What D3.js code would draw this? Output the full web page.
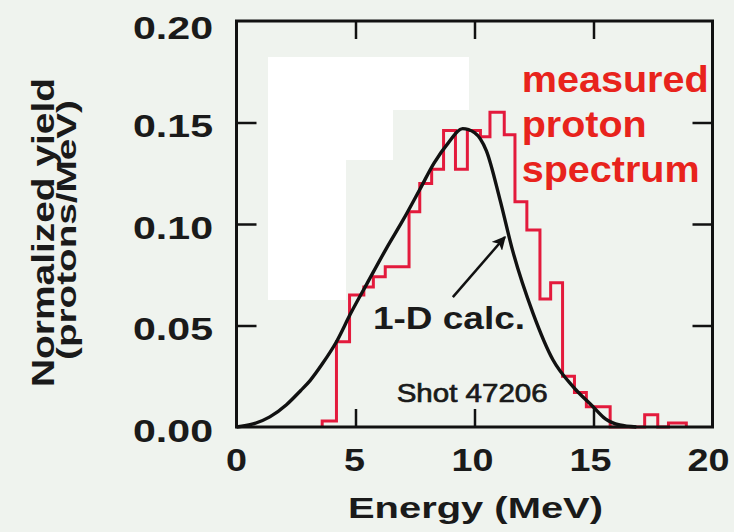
<!DOCTYPE html>
<html>
<head>
<meta charset="utf-8">
<script src="https://cdn.jsdelivr.net/npm/d3@7"></script>
<style>
  html, body { margin: 0; padding: 0; background: #eff3ee; }
  svg { display: block; }
  text { font-family: "Liberation Sans", Arial, sans-serif; }
</style>
</head>
<body>
<svg id="chart" width="734" height="532"></svg>
<script>
// ---- data ----
const xTicks = [0, 5, 10, 15, 20];
const yTicks = [0.00, 0.05, 0.10, 0.15, 0.20];
const xTickLabels = ["0", "5", "10", "15", "20"];
const yTickLabels = ["0.00", "0.05", "0.10", "0.15", "0.20"];

// measured proton spectrum (histogram): bin edges (MeV) and yields
const binEdges = [3.6, 4.2, 4.75, 5.35, 5.75, 6.25, 7.25, 7.7, 8.2, 8.7, 9.2, 9.7, 10.25, 10.65,
                  11.25, 11.7, 12.2, 12.75, 13.2, 13.7, 14.2, 14.7, 15.2, 15.7, 17.15, 17.7, 18.15, 18.9];
const measuredYield = [0.003, 0.042, 0.065, 0.069, 0.074, 0.079, 0.106, 0.120, 0.127, 0.146,
                       0.127, 0.146, 0.143, 0.155, 0.144, 0.111, 0.097, 0.063, 0.071, 0.025,
                       0.017, 0.010, 0.010, 0, 0.006, 0, 0.002];

// 1-D calculation (smooth curve)
const calcEnergy = [0, 0.7, 1.4, 2.1, 2.7, 3.1, 3.6, 4.2, 4.8, 5.5, 6.3, 7.0, 7.7, 8.3, 8.9, 9.5,
                    10.0, 10.5, 11.07, 11.6, 12.46, 13.3, 14.14, 14.98, 15.5, 16.1, 16.8];
const calcYield = [0, 0.0015, 0.005, 0.011, 0.018, 0.023, 0.031, 0.042, 0.056, 0.071, 0.088, 0.102,
                   0.117, 0.130, 0.140, 0.147, 0.145, 0.136, 0.112, 0.087, 0.056, 0.033, 0.0199,
                   0.010, 0.004, 0.001, 0];

const xTitle = "Energy (MeV)";
const yTitle1 = "Normalized yield";
const yTitle2 = "(protons/MeV)";
const legendLines = ["measured", "proton", "spectrum"];
const calcLabel = "1-D calc.";
const shotLabel = "Shot 47206";

// ---- layout ----
const svg = d3.select("#chart");
const pLeft = 236.5, pRight = 712.5, pTop = 21, pBottom = 427;
const x = d3.scaleLinear().domain([0, 20]).range([pLeft, pRight]);
const y = d3.scaleLinear().domain([0, 0.20]).range([pBottom, pTop]);

// background artefact patches (white)
const patches = svg.append("g").attr("fill", "#ffffff");
patches.append("rect").attr("x", 268).attr("y", 57).attr("width", 201).attr("height", 53);
patches.append("rect").attr("x", 268).attr("y", 110).attr("width", 125).attr("height", 50);
patches.append("rect").attr("x", 268).attr("y", 160).attr("width", 78).attr("height", 140);

// histogram path
const histPts = [[binEdges[0], 0]];
measuredYield.forEach((v, i) => {
  histPts.push([binEdges[i], v]);
  histPts.push([binEdges[i + 1], v]);
});
histPts.push([binEdges[binEdges.length - 1], 0]);
const lineLin = d3.line().x(d => x(d[0])).y(d => y(d[1]));
svg.append("path")
  .attr("d", lineLin(histPts))
  .attr("fill", "none")
  .attr("stroke", "#e31a3c")
  .attr("stroke-width", 3)
  .attr("stroke-linejoin", "miter");

// calc curve
const calcPts = calcEnergy.map((e, i) => [e, calcYield[i]]);
svg.append("path")
  .attr("d", d3.line().x(d => x(d[0])).y(d => y(d[1])).curve(d3.curveMonotoneX)(calcPts))
  .attr("fill", "none")
  .attr("stroke", "#111")
  .attr("stroke-width", 3.4)
  .attr("stroke-linejoin", "round");

// axes ticks (inward on all four sides)
const tickLen = 18;
const innerX = xTicks.filter(t => t > 0 && t < 20);
const innerY = yTicks.filter(t => t > 0 && t < 0.2);
function styleAxis(g) {
  g.select(".domain").remove();
  g.selectAll(".tick line").attr("stroke", "#111").attr("stroke-width", 2.5);
  g.selectAll(".tick text").remove();
}
svg.append("g").attr("transform", `translate(0,${pBottom})`)
  .call(d3.axisBottom(x).tickValues(innerX).tickSize(-tickLen)).call(styleAxis);
svg.append("g").attr("transform", `translate(0,${pTop})`)
  .call(d3.axisTop(x).tickValues(innerX).tickSize(-tickLen)).call(styleAxis);
svg.append("g").attr("transform", `translate(${pLeft},0)`)
  .call(d3.axisLeft(y).tickValues(innerY).tickSize(-tickLen - 2)).call(styleAxis);
svg.append("g").attr("transform", `translate(${pRight},0)`)
  .call(d3.axisRight(y).tickValues(innerY).tickSize(-tickLen - 2)).call(styleAxis);

// frame
svg.append("rect")
  .attr("x", pLeft).attr("y", pTop)
  .attr("width", pRight - pLeft).attr("height", pBottom - pTop)
  .attr("fill", "none").attr("stroke", "#111").attr("stroke-width", 3);

// tick labels
svg.append("g").selectAll("text").data(yTicks).join("text")
  .attr("x", 213)
  .attr("y", d => Math.max(y(d) + 14.5, 38.5))
  .attr("text-anchor", "end")
  .attr("font-size", 31).attr("font-weight", "bold").attr("fill", "#1a1a1a")
  .attr("textLength", 80).attr("lengthAdjust", "spacingAndGlyphs")
  .text((d, i) => yTickLabels[i]);

svg.append("g").selectAll("text").data(xTicks).join("text")
  .attr("x", (d) => x(d) - d * 0.2)
  .attr("y", 470.5)
  .attr("text-anchor", "middle")
  .attr("font-size", 31).attr("font-weight", "bold").attr("fill", "#1a1a1a")
  .attr("textLength", (d, i) => xTickLabels[i].length * 21)
  .attr("lengthAdjust", "spacingAndGlyphs")
  .text((d, i) => xTickLabels[i]);

// axis titles
svg.append("text")
  .attr("x", 475.5).attr("y", 518)
  .attr("text-anchor", "middle")
  .attr("font-size", 30).attr("font-weight", "bold").attr("fill", "#1a1a1a")
  .attr("textLength", 255).attr("lengthAdjust", "spacingAndGlyphs")
  .text(xTitle);

svg.append("text")
  .attr("transform", "translate(53.5,232.5) rotate(-90)")
  .attr("text-anchor", "middle")
  .attr("font-size", 32).attr("font-weight", "bold").attr("fill", "#1a1a1a")
  .attr("textLength", 309).attr("lengthAdjust", "spacingAndGlyphs")
  .text(yTitle1);

svg.append("text")
  .attr("transform", "translate(75.5,230) rotate(-90)")
  .attr("text-anchor", "middle")
  .attr("font-size", 27).attr("font-weight", "bold").attr("fill", "#1a1a1a")
  .attr("textLength", 260).attr("lengthAdjust", "spacingAndGlyphs")
  .text(yTitle2);

// red legend text
const legendBase = [91.5, 137, 182];
const legendLen = [187, 125, 178];
svg.append("g").selectAll("text").data(legendLines).join("text")
  .attr("x", 521.7)
  .attr("y", (d, i) => legendBase[i])
  .attr("font-size", 36).attr("font-weight", "bold").attr("fill", "#e8231c")
  .attr("textLength", (d, i) => legendLen[i]).attr("lengthAdjust", "spacingAndGlyphs")
  .text(d => d);

// annotation: 1-D calc. with arrow
svg.append("defs").append("marker")
  .attr("id", "ah").attr("viewBox", "0 0 10 10")
  .attr("refX", 9).attr("refY", 5)
  .attr("markerWidth", 5.5).attr("markerHeight", 5.5)
  .attr("orient", "auto")
  .append("path").attr("d", "M0,0 L10,5 L0,10 L2.5,5 Z").attr("fill", "#111");

svg.append("line")
  .attr("x1", x(9.09)).attr("y1", y(0.064))
  .attr("x2", x(11.28)).attr("y2", y(0.0936))
  .attr("stroke", "#111").attr("stroke-width", 2.5)
  .attr("marker-end", "url(#ah)");

svg.append("text")
  .attr("x", 373).attr("y", 329)
  .attr("font-size", 31).attr("font-weight", "bold").attr("fill", "#1a1a1a")
  .attr("textLength", 152).attr("lengthAdjust", "spacingAndGlyphs")
  .text(calcLabel);

svg.append("text")
  .attr("x", 396.7).attr("y", 401.7)
  .attr("font-size", 26).attr("font-weight", "normal").attr("fill", "#1a1a1a")
  .attr("stroke", "#1a1a1a").attr("stroke-width", 0.7)
  .attr("textLength", 151).attr("lengthAdjust", "spacingAndGlyphs")
  .text(shotLabel);
</script>
</body>
</html>
